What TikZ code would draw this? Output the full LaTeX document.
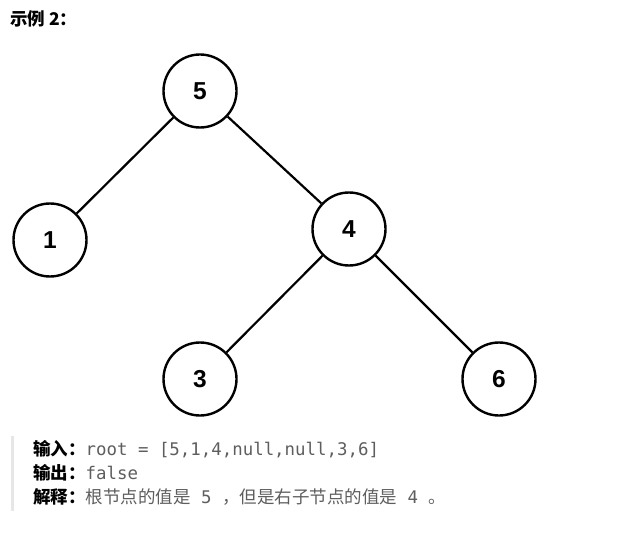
\documentclass[tikz,border=0pt]{standalone}
\usepackage{fontspec}
\setmainfont{Liberation Sans}
\setmonofont{DejaVu Sans Mono}
\newfontfamily\cjk{Noto Sans CJK SC}
\definecolor{txtgray}{HTML}{5E5E5E}
\definecolor{bargray}{HTML}{E6E6E6}
\newcommand{\mytt}[1]{{\ttfamily\fontsize{17.4}{20}\selectfont #1}}
\begin{document}
\begin{tikzpicture}[x=1pt,y=-1pt,
  tnode/.style={circle,draw=black,line width=2.4pt,minimum size=73pt,inner sep=0pt,font=\fontsize{24.5}{28}\selectfont\bfseries},
  tedge/.style={line width=2.2pt},
  lbl/.style={anchor=base west,inner sep=0pt,font=\fontsize{17.5}{20}\selectfont}]
\useasboundingbox (0,0) rectangle (620,534);
\fill[white] (0,0) rectangle (620,534);
\node[lbl,font=\fontsize{17.5}{20}\selectfont] (title) at (10,26) {\cjk\bfseries 示例 2：};
\node[tnode] (n5) at (200,91) {5};
\node[tnode] (n1) at (50,240) {1};
\node[tnode] (n4) at (349,229) {4};
\node[tnode] (n3) at (200,379) {3};
\node[tnode] (n6) at (499,379) {6};
\draw[tedge] (n5) -- (n1);
\draw[tedge] (n5) -- (n4);
\draw[tedge] (n4) -- (n3);
\draw[tedge] (n4) -- (n6);
\fill[bargray] (11,436) rectangle (14,511);
\node[lbl] (in) at (33,455) {{\cjk\bfseries 输入：}\textcolor{txtgray}{\mytt{root = [5,1,4,null,null,3,6]}}};
\node[lbl] (out) at (33,479) {{\cjk\bfseries 输出：}\textcolor{txtgray}{\mytt{false}}};
\node[lbl] (exp) at (33,503) {{\cjk\bfseries 解释：}\textcolor{txtgray}{\cjk 根节点的值是\mytt{ 5 }，但是右子节点的值是\mytt{ 4 }。}};
\end{tikzpicture}
\end{document}
